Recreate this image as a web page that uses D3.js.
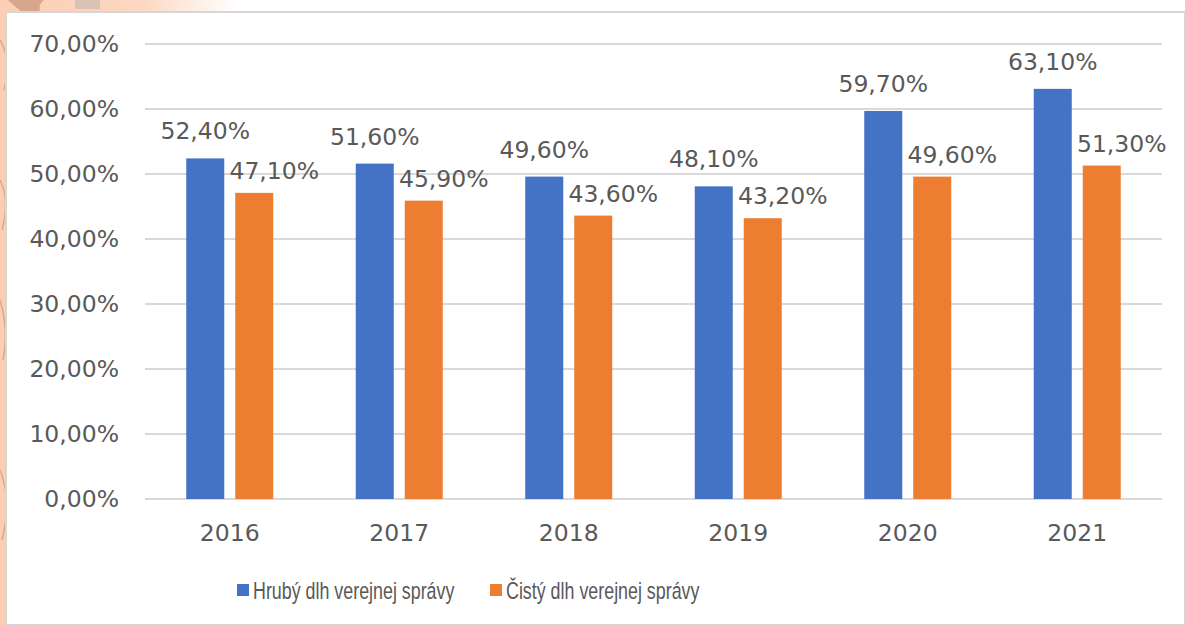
<!DOCTYPE html>
<html>
<head>
<meta charset="utf-8">
<script src="https://cdn.jsdelivr.net/npm/d3@7"></script>
<style>
  body { margin: 0; }
  svg { display: block; }
</style>
</head>
<body>
<script>
// data
var years = ['2016', '2017', '2018', '2019', '2020', '2021']
var series = ['Hrubý dlh verejnej správy', 'Čistý dlh verejnej správy']
var hruby = [52.4, 51.6, 49.6, 48.1, 59.7, 63.1]
var cisty = [47.1, 45.9, 43.6, 43.2, 49.6, 51.3]
var yTicks = [0, 10, 20, 30, 40, 50, 60, 70]
var colors = ['#4472c4', '#ed7d31']

var W = 1185, H = 625
var fmt = function (v) { return v.toFixed(2).replace('.', ',') + '%' }
var textColor = '#595959'
var fontSize = '23.5px'

var svg = d3.select('body').append('svg')
    .attr('width', W)
    .attr('height', H)

// background (peach decoration around the white panel)
var defs = svg.append('defs')
var grad = defs.append('linearGradient').attr('id', 'bg').attr('x1', 0).attr('x2', 1).attr('y1', 0).attr('y2', 0)
grad.append('stop').attr('offset', '0%').attr('stop-color', '#fbcfb3')
grad.append('stop').attr('offset', '12%').attr('stop-color', '#fcd8c2')
grad.append('stop').attr('offset', '20%').attr('stop-color', '#ffffff')
svg.append('rect').attr('width', W).attr('height', H).attr('fill', 'url(#bg)')
svg.append('rect').attr('x', 0).attr('y', 0).attr('width', 8).attr('height', H).attr('fill', '#fccfb4')
svg.append('path')
    .attr('d', 'M0,40 Q12,60 4,90 M0,180 Q10,200 2,230 M0,300 Q9,330 3,360 M0,470 Q12,500 2,540')
    .attr('fill', 'none').attr('stroke', '#d9a98c').attr('stroke-width', 1.5)
svg.append('path').attr('d', 'M8,0 Q14,6 22,12 L40,12 Q38,4 44,0 Z').attr('fill', '#c8957a').attr('opacity', 0.7)
svg.append('rect').attr('x', 75).attr('y', 0).attr('width', 25).attr('height', 9).attr('fill', '#d9c2b4')

// white panel
svg.append('rect')
    .attr('x', 6).attr('y', 12)
    .attr('width', W - 6).attr('height', H - 12)
    .attr('fill', '#ffffff')
    .attr('stroke', '#d6d6d6').attr('stroke-width', 2)

// scales
var plotL = 145, plotR = 1162, plotT = 44, plotB = 499
var x0 = d3.scaleBand().domain(years).range([plotL, plotR])
var x1 = d3.scaleBand().domain(series).range([-43.5, 43.5]).paddingInner(0.224)
var y = d3.scaleLinear().domain([0, 70]).range([plotB, plotT])

// gridlines
svg.append('g').selectAll('line')
    .data(yTicks)
    .enter()
  .append('line')
    .attr('x1', plotL).attr('x2', plotR)
    .attr('y1', function (d) { return y(d) })
    .attr('y2', function (d) { return y(d) })
    .attr('stroke', '#d9d9d9')
    .attr('stroke-width', 2)

// y axis labels
var yAxis = d3.axisLeft(y).tickValues(yTicks).tickSize(0).tickPadding(0)
    .tickFormat(function (d) { return d.toFixed(2).replace('.', ',') + '%' })
var gy = svg.append('g')
    .attr('transform', 'translate(119,0)')
    .call(yAxis)
gy.select('.domain').remove()
gy.selectAll('text')
    .attr('fill', textColor)
    .style('font-family', 'DejaVu Sans, sans-serif')
    .style('font-size', fontSize)

// x axis labels
var xAxis = d3.axisBottom(x0).tickSize(0).tickPadding(0)
var gx = svg.append('g')
    .attr('transform', 'translate(0,' + (plotB + 25) + ')')
    .call(xAxis)
gx.select('.domain').remove()
gx.selectAll('text')
    .attr('fill', textColor)
    .attr('dy', '0.71em')
    .style('font-family', 'DejaVu Sans, sans-serif')
    .style('font-size', fontSize)

// bars
var rows = years.map(function (yr, i) {
  return { year: yr, values: [
    { s: series[0], v: hruby[i], c: colors[0], dx: 0, dy: -19 },
    { s: series[1], v: cisty[i], c: colors[1], dx: 20, dy: -14 }
  ] }
})

var groups = svg.selectAll('.grp')
    .data(rows)
    .enter()
  .append('g')
    .attr('class', 'grp')
    .attr('transform', function (d) { return 'translate(' + (x0(d.year) + x0.bandwidth() / 2) + ',0)' })

groups.selectAll('rect')
    .data(function (d) { return d.values })
    .enter()
  .append('rect')
    .attr('x', function (d) { return x1(d.s) })
    .attr('y', function (d) { return y(d.v) })
    .attr('width', x1.bandwidth())
    .attr('height', function (d) { return y(0) - y(d.v) })
    .attr('fill', function (d) { return d.c })

// value labels
groups.selectAll('text')
    .data(function (d) { return d.values })
    .enter()
  .append('text')
    .attr('x', function (d) { return x1(d.s) + x1.bandwidth() / 2 + d.dx })
    .attr('y', function (d) { return y(d.v) + d.dy })
    .attr('text-anchor', 'middle')
    .attr('fill', textColor)
    .style('font-family', 'DejaVu Sans, sans-serif')
    .style('font-size', fontSize)
    .text(function (d) { return fmt(d.v) })

// legend
var legendX = [237, 490]
var legend = svg.selectAll('.leg')
    .data(series)
    .enter()
  .append('g')
    .attr('class', 'leg')
    .attr('transform', function (d, i) { return 'translate(' + legendX[i] + ',584)' })
legend.append('rect')
    .attr('width', 12).attr('height', 12)
    .attr('fill', function (d, i) { return colors[i] })
legend.append('text')
    .attr('transform', 'translate(16,15) scale(0.76,1)')
    .attr('fill', textColor)
    .style('font-family', '"Liberation Sans", sans-serif')
    .style('font-size', '23.5px')
    .text(function (d) { return d })
</script>
</body>
</html>
